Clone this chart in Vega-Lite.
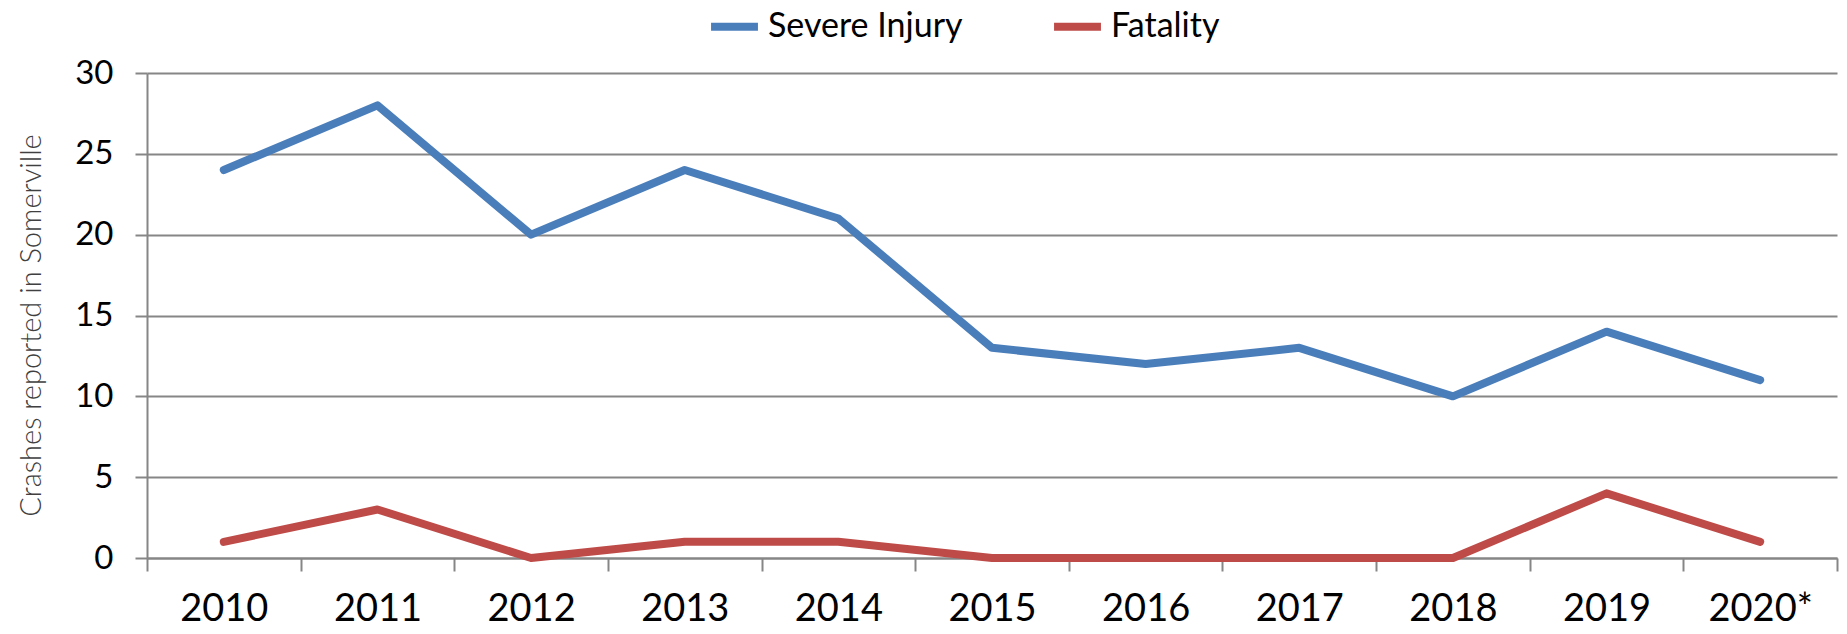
{
  "$schema": "https://vega.github.io/schema/vega-lite/v6.json",
  "width": 1690,
  "height": 485,
  "autosize": "none",
  "padding": {"left": 147, "top": 73, "right": 10, "bottom": 76},
  "background": "white",
  "config": {"view": {"stroke": null}, "font": "Lato"},
  "data": {
    "values": [
      {"year": "2010", "series": "Severe Injury", "value": 24},
      {"year": "2011", "series": "Severe Injury", "value": 28},
      {"year": "2012", "series": "Severe Injury", "value": 20},
      {"year": "2013", "series": "Severe Injury", "value": 24},
      {"year": "2014", "series": "Severe Injury", "value": 21},
      {"year": "2015", "series": "Severe Injury", "value": 13},
      {"year": "2016", "series": "Severe Injury", "value": 12},
      {"year": "2017", "series": "Severe Injury", "value": 13},
      {"year": "2018", "series": "Severe Injury", "value": 10},
      {"year": "2019", "series": "Severe Injury", "value": 14},
      {"year": "2020*", "series": "Severe Injury", "value": 11},
      {"year": "2010", "series": "Fatality", "value": 1},
      {"year": "2011", "series": "Fatality", "value": 3},
      {"year": "2012", "series": "Fatality", "value": 0},
      {"year": "2013", "series": "Fatality", "value": 1},
      {"year": "2014", "series": "Fatality", "value": 1},
      {"year": "2015", "series": "Fatality", "value": 0},
      {"year": "2016", "series": "Fatality", "value": 0},
      {"year": "2017", "series": "Fatality", "value": 0},
      {"year": "2018", "series": "Fatality", "value": 0},
      {"year": "2019", "series": "Fatality", "value": 4},
      {"year": "2020*", "series": "Fatality", "value": 1}
    ]
  },
  "mark": {"type": "line", "strokeWidth": 8, "strokeCap": "round", "strokeJoin": "round"},
  "encoding": {
    "x": {
      "field": "year",
      "type": "ordinal",
      "sort": null,
      "scale": {"type": "band", "paddingInner": 0, "paddingOuter": 0},
      "axis": {
        "title": null,
        "labelAngle": 0,
        "labelFont": "Lato",
        "labelFontSize": 38,
        "labelColor": "#000000",
        "labelPadding": 19,
        "tickBand": "extent",
        "tickSize": 13,
        "tickWidth": 2,
        "tickColor": "#868686",
        "domainColor": "#868686",
        "domainWidth": 2,
        "grid": false
      }
    },
    "y": {
      "field": "value",
      "type": "quantitative",
      "scale": {"domain": [0, 30], "nice": false},
      "axis": {
        "title": "Crashes reported in Somerville",
        "titleFont": "Lato",
        "titleFontWeight": 300,
        "titleFontSize": 29,
        "titleColor": "#404040",
        "titleAngle": -90,
        "titleX": -116,
        "titleY": 252,
        "titleAlign": "center",
        "titleBaseline": "middle",
        "values": [0, 5, 10, 15, 20, 25, 30],
        "labelFont": "Lato",
        "labelFontSize": 33,
        "labelColor": "#000000",
        "labelPadding": 22,
        "tickSize": 12,
        "tickWidth": 2,
        "tickColor": "#868686",
        "domainColor": "#868686",
        "domainWidth": 2,
        "grid": true,
        "gridColor": "#868686",
        "gridWidth": 2
      }
    },
    "color": {
      "field": "series",
      "type": "nominal",
      "scale": {"domain": ["Severe Injury", "Fatality"], "range": ["#4A7EBB", "#BE4B48"]},
      "legend": {
        "title": null,
        "orient": "none",
        "direction": "horizontal",
        "legendX": 560,
        "legendY": -74,
        "symbolType": "stroke",
        "symbolSize": 2200,
        "symbolStrokeWidth": 8,
        "labelFont": "Lato",
        "labelFontSize": 34,
        "labelColor": "#000000",
        "labelOffset": 6,
        "columnPadding": 75,
        "labelLimit": 400
      }
    }
  }
}
